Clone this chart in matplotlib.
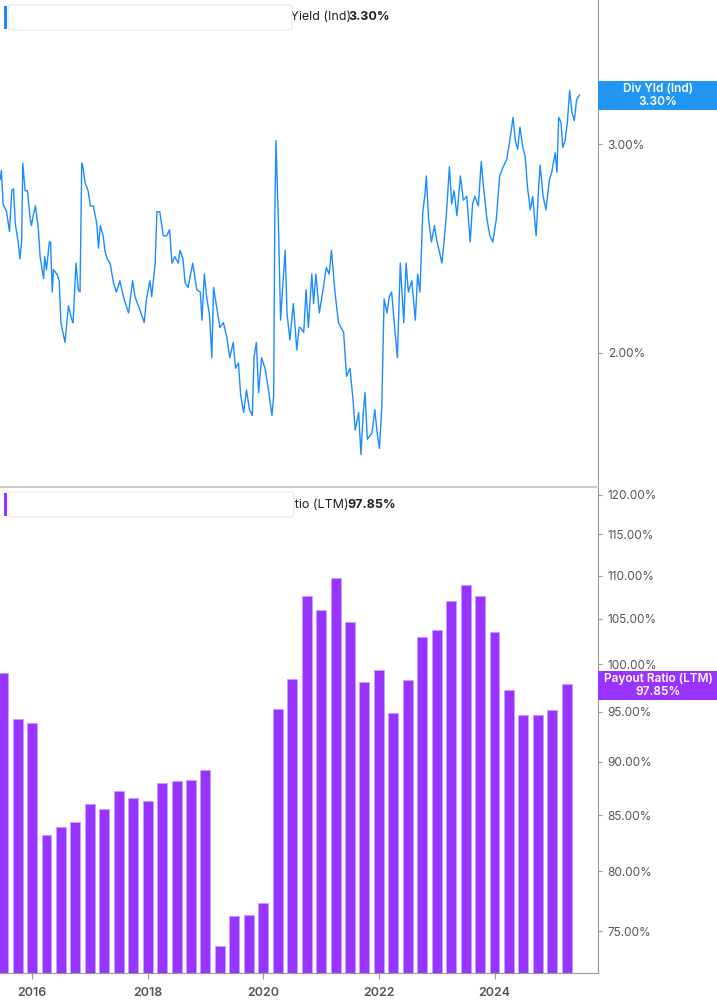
import numpy as np
import matplotlib
matplotlib.use("Agg")
from matplotlib import pyplot as plt
from matplotlib.patches import FancyBboxPatch, Rectangle
from matplotlib.ticker import FixedLocator, NullLocator

plt.rcParams['font.family'] = 'Inter'

# dividend yield (decimal year, %)
yield_dates = [2015.45, 2015.47, 2015.50, 2015.56, 2015.61, 2015.65, 2015.68, 2015.71, 2015.76, 2015.79,
               2015.82, 2015.84, 2015.88, 2015.92, 2015.97, 2015.99, 2016.02, 2016.06, 2016.11, 2016.14,
               2016.20, 2016.22, 2016.25, 2016.30, 2016.32, 2016.35, 2016.37, 2016.43, 2016.47, 2016.50,
               2016.57, 2016.63, 2016.69, 2016.71, 2016.76, 2016.80, 2016.83, 2016.86, 2016.88, 2016.92,
               2016.97, 2017.01, 2017.06, 2017.12, 2017.15, 2017.18, 2017.23, 2017.26, 2017.30, 2017.35,
               2017.41, 2017.46, 2017.52, 2017.58, 2017.67, 2017.74, 2017.78, 2017.87, 2017.94, 2017.98,
               2018.04, 2018.07, 2018.13, 2018.16, 2018.21, 2018.27, 2018.33, 2018.38, 2018.42, 2018.47,
               2018.53, 2018.56, 2018.61, 2018.65, 2018.70, 2018.78, 2018.85, 2018.91, 2018.94, 2018.98,
               2019.02, 2019.07, 2019.11, 2019.14, 2019.19, 2019.25, 2019.31, 2019.37, 2019.42, 2019.48,
               2019.52, 2019.57, 2019.61, 2019.66, 2019.71, 2019.76, 2019.81, 2019.84, 2019.88, 2019.92,
               2019.97, 2020.03, 2020.09, 2020.15, 2020.18, 2020.20, 2020.22, 2020.26, 2020.28, 2020.30,
               2020.34, 2020.38, 2020.41, 2020.46, 2020.52, 2020.58, 2020.62, 2020.64, 2020.70, 2020.74,
               2020.78, 2020.84, 2020.87, 2020.91, 2020.97, 2021.04, 2021.09, 2021.14, 2021.18, 2021.24,
               2021.30, 2021.39, 2021.44, 2021.50, 2021.55, 2021.59, 2021.65, 2021.69, 2021.73, 2021.76,
               2021.80, 2021.88, 2021.93, 2021.97, 2022.01, 2022.05, 2022.09, 2022.14, 2022.18, 2022.22,
               2022.28, 2022.32, 2022.37, 2022.43, 2022.47, 2022.51, 2022.57, 2022.63, 2022.67, 2022.71,
               2022.76, 2022.80, 2022.82, 2022.86, 2022.91, 2022.96, 2023.00, 2023.05, 2023.09, 2023.13,
               2023.17, 2023.22, 2023.26, 2023.30, 2023.35, 2023.41, 2023.46, 2023.52, 2023.58, 2023.62,
               2023.66, 2023.72, 2023.77, 2023.81, 2023.87, 2023.92, 2023.97, 2024.03, 2024.09, 2024.15,
               2024.21, 2024.26, 2024.32, 2024.36, 2024.40, 2024.44, 2024.49, 2024.53, 2024.57, 2024.62,
               2024.66, 2024.72, 2024.76, 2024.79, 2024.84, 2024.89, 2024.95, 2024.99, 2025.05, 2025.08,
               2025.11, 2025.15, 2025.18, 2025.22, 2025.26, 2025.30, 2025.34, 2025.38, 2025.42, 2025.47]
yield_values = [2.80, 2.85, 2.67, 2.63, 2.53, 2.74, 2.75, 2.57, 2.48, 2.40,
                2.48, 2.89, 2.74, 2.74, 2.59, 2.56, 2.61, 2.66, 2.54, 2.41,
                2.31, 2.41, 2.35, 2.48, 2.48, 2.25, 2.35, 2.33, 2.30, 2.12,
                2.04, 2.19, 2.13, 2.12, 2.38, 2.26, 2.25, 2.89, 2.87, 2.78,
                2.74, 2.66, 2.66, 2.57, 2.45, 2.56, 2.51, 2.44, 2.40, 2.38,
                2.29, 2.25, 2.30, 2.23, 2.16, 2.30, 2.23, 2.17, 2.12, 2.22,
                2.30, 2.23, 2.38, 2.63, 2.63, 2.51, 2.51, 2.54, 2.38, 2.41,
                2.38, 2.44, 2.40, 2.29, 2.27, 2.38, 2.26, 2.25, 2.13, 2.33,
                2.23, 2.15, 1.98, 2.27, 2.19, 2.10, 2.12, 2.06, 1.98, 2.04,
                1.94, 1.96, 1.84, 1.78, 1.86, 1.79, 1.77, 1.98, 2.04, 1.85,
                1.98, 1.94, 1.86, 1.77, 1.84, 2.63, 3.02, 2.59, 2.35, 2.13,
                2.29, 2.44, 2.16, 2.05, 2.20, 2.01, 2.10, 2.10, 2.08, 2.26,
                2.10, 2.33, 2.20, 2.33, 2.16, 2.27, 2.36, 2.33, 2.44, 2.25,
                2.12, 2.08, 1.91, 1.94, 1.83, 1.72, 1.78, 1.64, 1.78, 1.85,
                1.69, 1.71, 1.79, 1.71, 1.66, 1.80, 2.22, 2.16, 2.23, 2.25,
                2.08, 1.98, 2.38, 2.12, 2.38, 2.25, 2.30, 2.13, 2.33, 2.25,
                2.63, 2.73, 2.82, 2.59, 2.48, 2.56, 2.49, 2.43, 2.38, 2.49,
                2.63, 2.87, 2.67, 2.74, 2.61, 2.82, 2.69, 2.71, 2.48, 2.67,
                2.71, 2.66, 2.90, 2.76, 2.59, 2.51, 2.48, 2.59, 2.82, 2.87,
                2.91, 3.01, 3.16, 3.02, 2.97, 3.10, 2.98, 2.93, 2.76, 2.64,
                2.71, 2.51, 2.74, 2.88, 2.71, 2.64, 2.80, 2.84, 2.95, 2.84,
                3.16, 3.13, 2.98, 3.02, 3.13, 3.33, 3.19, 3.14, 3.27, 3.30]

# payout ratio (LTM), quarterly from Q2 2015
payout_dates = [2015.5 + 0.25 * i for i in range(40)]
payout_values = [99.1, 94.3, 93.9, 83.2, 83.9, 84.4, 86.0, 85.6, 87.2, 86.6,
                 86.3, 88.0, 88.2, 88.3, 89.2, 73.8, 76.2, 76.3, 77.3, 95.3,
                 98.4, 107.6, 106.0, 109.7, 104.6, 98.1, 99.4, 94.9, 98.3, 103.0,
                 103.7, 107.1, 108.9, 107.6, 103.5, 97.3, 94.7, 94.7, 95.2, 97.85]

yield_ticks = [2.0, 3.0]
payout_ticks = [75, 80, 85, 90, 95, 100, 105, 110, 115, 120]
year_ticks = [2016, 2018, 2020, 2022, 2024]

blue = '#1a8cff'
purple = '#9933ff'
grey = '#999999'
tick_col = '#555555'

fig = plt.figure(figsize=(7.17, 10.05), dpi=100)
W, H = 717, 1005
right = 598 / W
ax1 = fig.add_axes([0, 1 - 487 / H, right, 487 / H])
ax2 = fig.add_axes([0, 1 - 973 / H, right, (973 - 488) / H], sharex=ax1)

ax1.plot(yield_dates, yield_values, color=blue, lw=1.0)
ax1.set_yscale('log')
ax1.set_ylim(1.54, 3.97)

ax2.bar(payout_dates, payout_values, width=0.172, color=purple,
        edgecolor='#c89cff', linewidth=0.6, bottom=0)
ax2.set_yscale('log')
ax2.set_ylim(71.7, 120.9)
ax2.set_xlim(2015.446, 2025.79)

for ax in (ax1, ax2):
    for s in ('top', 'left'):
        ax.spines[s].set_visible(False)
    ax.spines['right'].set_color(grey)
    ax.spines['bottom'].set_color('#cccccc')
    ax.yaxis.tick_right()
    ax.yaxis.set_minor_locator(NullLocator())
    ax.tick_params(axis='y', colors=grey, labelcolor=tick_col, labelsize=8.5,
                   length=3, pad=4)

ax1.spines['bottom'].set_linewidth(1.5)
ax1.yaxis.set_major_locator(FixedLocator(yield_ticks))
ax1.set_yticklabels([f'{t:.2f}%' for t in yield_ticks])
ax1.tick_params(axis='x', bottom=False, labelbottom=False)

ax2.spines['bottom'].set_color(grey)
ax2.yaxis.set_major_locator(FixedLocator(payout_ticks))
ax2.set_yticklabels([f'{t:.2f}%' for t in payout_ticks])
ax2.set_xticks(year_ticks)
ax2.set_xticklabels([str(y) for y in year_ticks])
ax2.tick_params(axis='x', colors=grey, labelcolor=tick_col, labelsize=9, length=4, pad=6)
for lab in ax2.get_xticklabels():
    lab.set_fontweight('semibold')


def legend_box(top_px, color, metric, value, width_px):
    y0 = 1 - (top_px + 25) / H
    box = FancyBboxPatch((8 / W, y0), width_px / W, 25 / H, transform=fig.transFigure,
                         boxstyle='round,pad=0,rounding_size=0.004', facecolor='white',
                         edgecolor='#e6e6e6', linewidth=0.8, zorder=5)
    fig.patches.append(box)
    fig.patches.append(Rectangle((4 / W, y0 + 1 / H), 3 / W, 23 / H, transform=fig.transFigure,
                                 facecolor=color, edgecolor='none', zorder=6))
    yc = y0 + 12.5 / H
    fig.text(13 / W, yc, 'ELS', fontsize=9, fontweight='bold', va='center', color='#222222')
    fig.text(45 / W, yc, 'Equity LifeStyle Properties, Inc.', fontsize=9, fontweight='semibold',
             va='center', color='#222222')
    fig.text(235 / W, yc, metric, fontsize=9, va='center', color='#222222')
    fig.text((235 + 113) / W if 'Ind' in metric else (235 + 112) / W, yc, value, fontsize=9,
             fontweight='bold', va='center', color='#222222')


legend_box(5, blue, 'Dividend Yield (Ind)', '3.30%', 284)
legend_box(492, purple, 'Payout Ratio (LTM)', '97.85%', 286)


def value_tag(top_px, color, line1, line2):
    fig.patches.append(Rectangle((598 / W, 1 - (top_px + 29) / H), 119 / W, 29 / H,
                                 transform=fig.transFigure, facecolor=color, edgecolor='none'))
    fig.text(658 / W, 1 - (top_px + 8) / H, line1, color='white', fontsize=8.5,
             fontweight='semibold', ha='center', va='center')
    fig.text(658 / W, 1 - (top_px + 21) / H, line2, color='white', fontsize=8.5,
             fontweight='semibold', ha='center', va='center')


value_tag(81, '#2196f3', 'Div Yld (Ind)', '3.30%')
value_tag(671, purple, 'Payout Ratio (LTM)', '97.85%')

fig.savefig('out.png', dpi=100)
